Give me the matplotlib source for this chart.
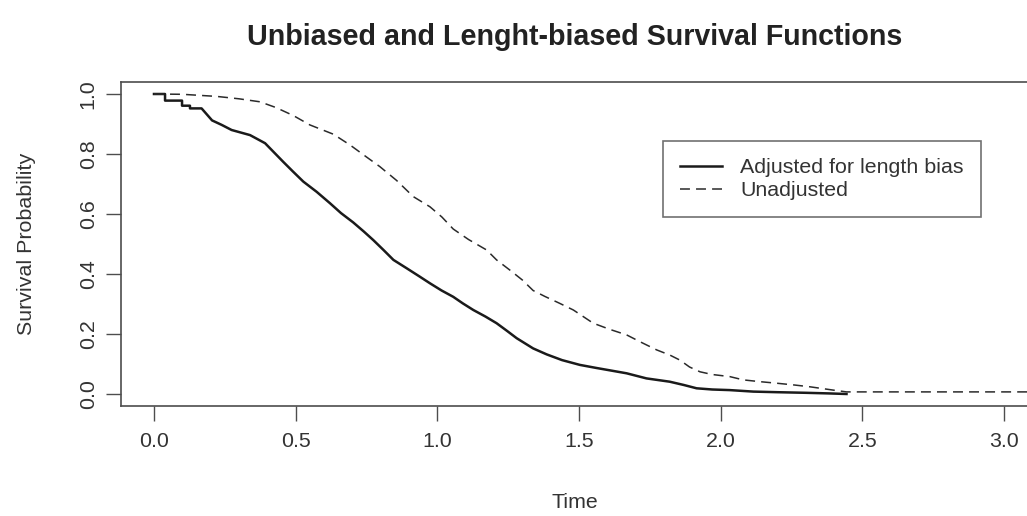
import numpy as np
import matplotlib
matplotlib.use("Agg")
import matplotlib.pyplot as plt

plt.rcParams["font.family"] = ["Liberation Sans", "DejaVu Sans"]

# curva aggiustata per length bias
t_adj = [0.0, 0.039, 0.039, 0.099, 0.099, 0.127, 0.127, 0.168, 0.205, 0.239,
         0.274, 0.339, 0.392, 0.424, 0.456, 0.49, 0.527, 0.574, 0.621, 0.66,
         0.703, 0.74, 0.774, 0.81, 0.845, 0.892, 0.935, 0.974, 1.015, 1.056,
         1.09, 1.127, 1.17, 1.209, 1.245, 1.28, 1.338, 1.386, 1.44, 1.503,
         1.56, 1.62, 1.668, 1.738, 1.82, 1.87, 1.915, 1.97, 2.032, 2.115,
         2.2, 2.3, 2.38, 2.444]
s_adj = [1.0, 1.0, 0.978, 0.978, 0.961, 0.961, 0.952, 0.952, 0.912, 0.897,
         0.88, 0.863, 0.836, 0.805, 0.774, 0.742, 0.708, 0.674, 0.636, 0.603,
         0.572, 0.542, 0.513, 0.48, 0.447, 0.419, 0.393, 0.369, 0.345, 0.324,
         0.302, 0.28, 0.258, 0.236, 0.211, 0.186, 0.152, 0.132, 0.113, 0.097,
         0.087, 0.077, 0.069, 0.052, 0.041, 0.03, 0.019, 0.015, 0.013, 0.008,
         0.006, 0.004, 0.002, 0.0]

# curva non aggiustata
t_unadj = [0.0, 0.10, 0.221, 0.30, 0.374, 0.43, 0.492, 0.55, 0.633, 0.692,
           0.75, 0.797, 0.856, 0.915, 0.974, 1.016, 1.056, 1.11, 1.174, 1.209,
           1.256, 1.30, 1.338, 1.38, 1.43, 1.48, 1.55, 1.61, 1.668, 1.72,
           1.774, 1.82, 1.856, 1.89, 1.927, 1.97, 2.032, 2.08, 2.14, 2.197,
           2.26, 2.315, 2.397, 2.444, 3.1]
s_unadj = [1.0, 0.999, 0.992, 0.984, 0.974, 0.955, 0.928, 0.897, 0.866, 0.83,
           0.79, 0.758, 0.712, 0.658, 0.624, 0.59, 0.55, 0.515, 0.48, 0.447,
           0.413, 0.38, 0.345, 0.325, 0.303, 0.28, 0.236, 0.215, 0.197, 0.172,
           0.147, 0.13, 0.113, 0.09, 0.074, 0.065, 0.058, 0.047, 0.041, 0.036,
           0.03, 0.024, 0.013, 0.007, 0.007]

x_ticks = [0.0, 0.5, 1.0, 1.5, 2.0, 2.5, 3.0]
y_ticks = [0.0, 0.2, 0.4, 0.6, 0.8, 1.0]

grigio = "#4d4d4d"
W, H = 1027, 516
fig = plt.figure(figsize=(W / 100, H / 100), dpi=100)
# assi: sinistra 121px, destra ~1029px (fuori figura), alto 82px, basso 406px
ax = fig.add_axes([121 / W, (H - 406) / H, (1029 - 121) / W, (406 - 82) / H])

ax.plot(t_adj, s_adj, color="#1a1a1a", lw=1.8, label="Adjusted for length bias")
ax.plot(t_unadj, s_unadj, color="#2a2a2a", lw=1.1, linestyle=(0, (6.5, 4)),
        label="Unadjusted")

ax.set_xlim(-0.1164, 3.088)
ax.set_ylim(-0.04, 1.04)
ax.set_xticks(x_ticks)
ax.set_xticklabels([f"{v:.1f}" for v in x_ticks])
ax.set_yticks(y_ticks)
ax.set_yticklabels([f"{v:.1f}" for v in y_ticks], rotation=90, va="center")
ax.tick_params(axis="both", length=10.8, width=1, color=grigio,
               labelsize=15.4, labelcolor="#333333")
ax.tick_params(axis="x", pad=8)
ax.tick_params(axis="y", pad=6)
for sp in ax.spines.values():
    sp.set_color(grigio)
    sp.set_linewidth(1.2)

ax.set_xlabel("Time", fontsize=15.4, color="#333333")
ax.xaxis.set_label_coords(0.5, -0.269)
ax.set_ylabel("Survival Probability", fontsize=15.4, color="#333333")
ax.yaxis.set_label_coords(-0.094, 0.5)

fig.text(575 / W, 1 - 45 / H, "Unbiased and Lenght-biased Survival Functions",
         ha="center", va="baseline", fontsize=20.6, fontweight="bold",
         color="#222222")

leg = ax.legend(loc="upper left", bbox_to_anchor=(0.597, 0.818),
                borderaxespad=0, fontsize=15.4, frameon=True, fancybox=False,
                handlelength=1.95, handletextpad=0.85, labelspacing=0.2,
                borderpad=0.8)
leg.get_frame().set_edgecolor(grigio)
leg.get_frame().set_linewidth(1.2)
for txt in leg.get_texts():
    txt.set_color("#333333")

plt.savefig("out.png", dpi=100)
